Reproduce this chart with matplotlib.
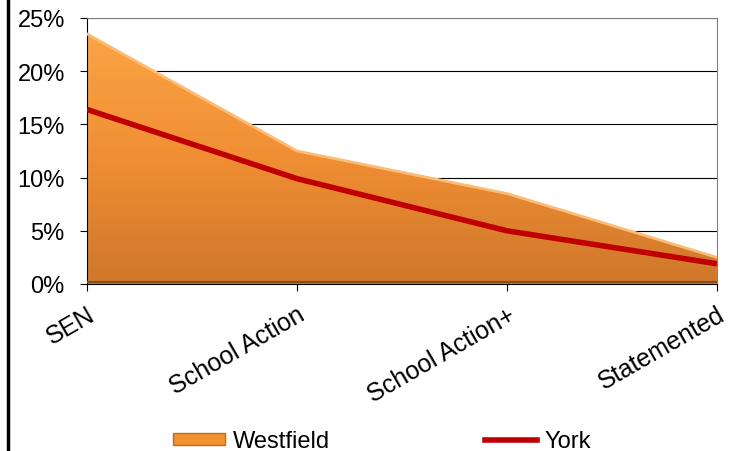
import matplotlib.pyplot as plt
import numpy as np
from matplotlib.patches import Polygon, Rectangle
from matplotlib.lines import Line2D
from matplotlib.colors import LinearSegmentedColormap

plt.rcParams['font.family'] = ['Liberation Sans', 'DejaVu Sans']

categories = ['SEN', 'School Action', 'School Action+', 'Statemented']
westfield = [23.5, 12.5, 8.5, 2.5]
york = [16.4, 9.9, 5.0, 1.9]

fig = plt.figure(figsize=(7.35, 4.52), dpi=100)
ax = fig.add_axes([0.1184, 0.3695, 0.857, 0.5885])

x = np.arange(len(categories))

# gradient area for Westfield
cmap = LinearSegmentedColormap.from_list('orng', ['#cf772b', '#f08e33', '#fba545'])
grad = np.linspace(0, 1, 256).reshape(-1, 1)
img = ax.imshow(grad, extent=[0, 3, 0, max(westfield)], origin='lower', aspect='auto',
                cmap=cmap, zorder=2)
poly = Polygon(list(zip(x, westfield)) + [(3, 0), (0, 0)], closed=True,
               facecolor='none', edgecolor='none')
ax.add_patch(poly)
img.set_clip_path(poly)
ax.plot(x, westfield, color='#f9bd78', lw=2, zorder=3)
ax.plot([0, 3], [0.15, 0.15], color='#8a4c18', lw=1.5, zorder=3)

ax.plot(x, york, color='#c00000', lw=4, zorder=4, solid_capstyle='butt')

ax.set_xlim(0, 3)
ax.set_ylim(0, 25)
ax.set_yticks(range(0, 26, 5))
ax.set_yticklabels([f'{v}%' for v in range(0, 26, 5)], fontsize=17)
ax.set_xticks(x)
ax.set_xticklabels(categories, rotation=30, ha='right', rotation_mode='anchor', fontsize=18)
ax.grid(axis='y', color='black', lw=0.8, zorder=1)
for s in ax.spines.values():
    s.set_color('#808080')
ax.spines['bottom'].set_color('black')
ax.spines['left'].set_color('black')
ax.tick_params(axis='y', length=5, color='black', direction='out', pad=11)
ax.tick_params(axis='x', length=5, color='black', direction='out', pad=8)

# left frame line of the figure
fig.add_artist(Line2D([0.011, 0.011], [0, 1], color='black', lw=2.5, transform=fig.transFigure))

handles = [Rectangle((0, 0), 1, 1, facecolor='#f0922f', edgecolor='#c06a20'),
           Line2D([], [], color='#c00000', lw=4)]
fig.legend(handles, ['Westfield', 'York'], loc='lower center', bbox_to_anchor=(0.52, -0.05),
           ncol=2, frameon=False, fontsize=17, columnspacing=6.6, handlelength=2.2,
           handleheight=0.45, handletextpad=0.3)

plt.savefig('out.png', dpi=100)
